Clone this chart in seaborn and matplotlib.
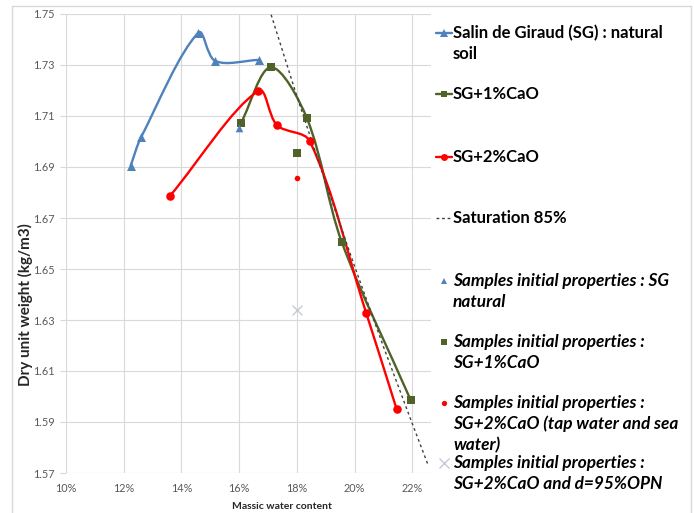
import numpy as np
import matplotlib
matplotlib.use("Agg")
import matplotlib.pyplot as plt
import seaborn as sns
from matplotlib.path import Path
from matplotlib.patches import PathPatch, Rectangle
from matplotlib.lines import Line2D

# compaction curves (water content, dry unit weight)
sg_w = [0.1224, 0.1260, 0.1459, 0.1517, 0.1669]
sg_d = [1.6905, 1.7016, 1.7427, 1.7316, 1.7320]
cao1_w = [0.1607, 0.1710, 0.1835, 0.1956, 0.2195]
cao1_d = [1.7074, 1.7291, 1.7091, 1.6605, 1.5985]
cao2_w = [0.1360, 0.1667, 0.1731, 0.1845, 0.2040, 0.2146]
cao2_d = [1.6786, 1.7199, 1.7064, 1.7001, 1.6329, 1.5950]
sat_w = [0.1711, 0.1800, 0.1900, 0.2000, 0.2100, 0.2200, 0.2255]
sat_d = [1.7497, 1.7178, 1.6838, 1.6511, 1.6196, 1.5894, 1.5731]

# sample initial states
samp_nat_w, samp_nat_d = [0.160], [1.7052]
samp_1_w, samp_1_d = [0.180], [1.6956]
samp_2_w, samp_2_d = [0.180], [1.6856]
samp_opn_w, samp_opn_d = [0.180], [1.6338]

x_ticks = [0.10, 0.12, 0.14, 0.16, 0.18, 0.20, 0.22]
y_ticks = [1.57, 1.59, 1.61, 1.63, 1.65, 1.67, 1.69, 1.71, 1.73, 1.75]

labels = [
    "Salin de Giraud (SG) : natural\nsoil",
    "SG+1%CaO",
    "SG+2%CaO",
    "Saturation 85%",
    "Samples initial properties : SG\nnatural",
    "Samples initial properties :\nSG+1%CaO",
    "Samples initial properties :\nSG+2%CaO (tap water and sea\nwater)",
    "Samples initial properties :\nSG+2%CaO and d=95%OPN",
]

BLUE = "#4f81bd"
GREEN = "#4f6228"
RED = "#ff0000"
GREYX = "#c3cad8"
SATC = "#404040"

sns.set_theme(style="white")
plt.rcParams["font.family"] = ["Lato", "DejaVu Sans"]

W, H = 694, 513
fig = plt.figure(figsize=(W / 100, H / 100), dpi=100)
ax_l, ax_r, ax_t, ax_b = 66, 431, 14, 473
ax = fig.add_axes([ax_l / W, 1 - ax_b / H, (ax_r - ax_l) / W, (ax_b - ax_t) / H])
ax.set_xlim(0.10, 0.2265)
ax.set_ylim(1.57, 1.75)


def smooth(ax, xs, ys, color, lw):
    # excel-like smoothed line through the points (bezier, built in pixel space)
    pts = ax.transData.transform(np.column_stack([xs, ys]))
    n = len(pts)
    verts = [pts[0]]
    codes = [Path.MOVETO]
    for i in range(n - 1):
        p0 = pts[i - 1] if i > 0 else pts[i]
        p1, p2 = pts[i], pts[i + 1]
        p3 = pts[i + 2] if i + 2 < n else pts[i + 1]
        d = np.linalg.norm(p2 - p1)
        t1 = (p2 - p0) / (np.linalg.norm(p1 - p0) + d)
        t2 = (p3 - p1) / (d + np.linalg.norm(p3 - p2))
        verts += [p1 + t1 * d / 3, p2 - t2 * d / 3, p2]
        codes += [Path.CURVE4] * 3
    verts = ax.transData.inverted().transform(np.array(verts))
    ax.add_patch(PathPatch(Path(verts, codes), fill=False, edgecolor=color,
                           lw=lw, capstyle="round", joinstyle="round", zorder=2))


smooth(ax, sg_w, sg_d, BLUE, 1.7)
smooth(ax, cao1_w, cao1_d, GREEN, 1.7)
smooth(ax, cao2_w, cao2_d, RED, 1.7)
sns.lineplot(x=sat_w, y=sat_d, ax=ax, color=SATC, lw=1.0, linestyle=(0, (2, 2.2)),
             sort=False, estimator=None, zorder=3)

sns.scatterplot(x=sg_w, y=sg_d, ax=ax, marker="^", s=42, color=BLUE, linewidth=0, zorder=4)
sns.scatterplot(x=cao1_w, y=cao1_d, ax=ax, marker="s", s=30, color=GREEN, linewidth=0, zorder=4)
sns.scatterplot(x=cao2_w, y=cao2_d, ax=ax, marker="o", s=38, color=RED, linewidth=0, zorder=4)
sns.scatterplot(x=samp_nat_w, y=samp_nat_d, ax=ax, marker="^", s=30, color=BLUE, linewidth=0, zorder=4)
sns.scatterplot(x=samp_1_w, y=samp_1_d, ax=ax, marker="s", s=26, color=GREEN, linewidth=0, zorder=4)
sns.scatterplot(x=samp_2_w, y=samp_2_d, ax=ax, marker="o", s=16, color=RED, linewidth=0, zorder=4)
sns.scatterplot(x=samp_opn_w, y=samp_opn_d, ax=ax, marker="x", s=50, color=GREYX, linewidth=1.0, zorder=4)

ax.set_xticks(x_ticks)
ax.set_xticklabels([f"{v * 100:.0f}%" for v in x_ticks])
ax.set_yticks(y_ticks)
ax.set_yticklabels([f"{v:.2f}" for v in y_ticks])
ax.grid(True, color="#d9d9d9", lw=0.8)
ax.set_axisbelow(True)
for s in ax.spines.values():
    s.set_visible(False)
ax.tick_params(axis="y", length=4, width=0.8, color="#d9d9d9", pad=4,
               labelsize=7.8, labelcolor="#595959", left=True)
ax.tick_params(axis="x", length=0, pad=7, labelsize=7.8, labelcolor="#595959")

ax.set_xlabel("Massic water content", fontsize=7.5, fontweight="bold", color="#262626")
ax.xaxis.set_label_coords((282 - ax_l) / (ax_r - ax_l), (ax_b - 502) / (ax_b - ax_t))
ax.set_ylabel("Dry unit weight (kg/m3)", fontsize=11, fontweight="bold", color="#262626")
ax.yaxis.set_label_coords((33 - ax_l) / (ax_r - ax_l), (ax_b - 305) / (ax_b - ax_t))

# legend, excel-style: one slot per entry on the right
slots = [33, 94, 157, 218, 281, 342, 403, 463]
line_gap = 21
tx, mx = 453, 444


def fx(px):
    return px / W


def fy(py):
    return 1 - py / H


handles = [
    dict(marker="^", ms=5.5, color=BLUE, line=True, ls="-"),
    dict(marker="s", ms=4.5, color=GREEN, line=True, ls="-"),
    dict(marker="o", ms=5, color=RED, line=True, ls="-"),
    dict(marker=None, ms=0, color=SATC, line=True, ls=(0, (2, 2))),
    dict(marker="^", ms=5, color=BLUE, line=False, ls="-"),
    dict(marker="s", ms=4.5, color=GREEN, line=False, ls="-"),
    dict(marker="o", ms=3.8, color=RED, line=False, ls="-"),
    dict(marker="x", ms=7, color=GREYX, line=False, ls="-"),
]
for i, (lab, h, sy) in enumerate(zip(labels, handles, slots)):
    if h["line"]:
        fig.add_artist(Line2D([fx(436), fx(452)], [fy(sy), fy(sy)], color=h["color"],
                              lw=1.7 if h["marker"] else 1.0, ls=h["ls"],
                              transform=fig.transFigure))
    if h["marker"]:
        fig.add_artist(Line2D([fx(mx)], [fy(sy)], marker=h["marker"], ms=h["ms"],
                              color=h["color"], mew=0 if h["marker"] != "x" else 1.0,
                              ls="none", transform=fig.transFigure))
    style = "italic" if i >= 4 else "normal"
    size = 12.4 if i >= 4 else 12
    for k, part in enumerate(lab.split("\n")):
        fig.text(fx(tx), fy(sy + k * line_gap), part, fontsize=size, fontweight="bold",
                 fontstyle=style, color="#000000", va="center", ha="left")

# chart area border
fig.add_artist(Rectangle((fx(12), fy(530)), fx(691) - fx(12), fy(6) - fy(530),
                         transform=fig.transFigure, fill=False, edgecolor="#d9d9d9",
                         lw=1.0))

fig.savefig("out.png", dpi=100)
